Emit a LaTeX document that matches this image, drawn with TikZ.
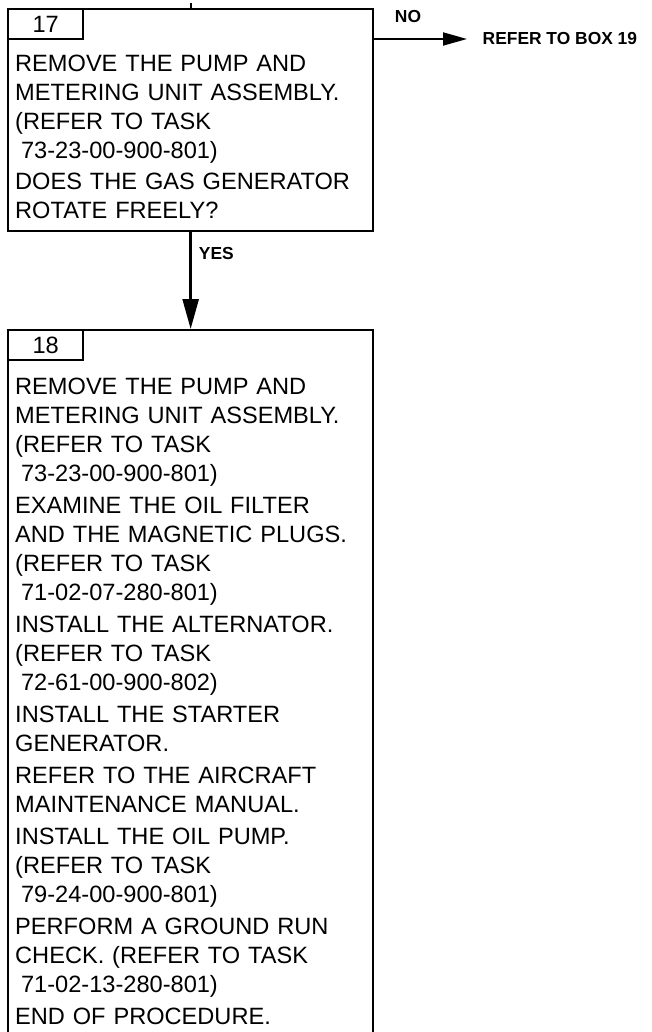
\documentclass[tikz,border=0pt]{standalone}
\usepackage{fontspec}
\setmainfont{Liberation Sans}
\usepackage{tikz}
\usetikzlibrary{arrows.meta,positioning}

\newcommand{\bodyfont}{\fontsize{23.6}{29}\selectfont}
\newcommand{\lblfont}{\fontsize{17.4}{20}\selectfont\bfseries}
\newcommand{\taskref}[1]{\hspace*{.25em}#1}

\begin{document}
\begin{tikzpicture}[x=1pt,y=-1pt,
  boxframe/.style={draw,line width=2.3pt,inner sep=0pt,minimum width=365pt,anchor=north west},
  numtab/.style={draw,line width=2.3pt,inner sep=0pt,minimum width=75pt,minimum height=30pt,anchor=north west,font=\bodyfont},
  boxtext/.style={anchor=north west,inner sep=0pt,text width=352pt,align=left,font=\bodyfont},
  lbl/.style={inner sep=0pt,font=\lblfont}]
  \useasboundingbox (0,0) rectangle (652,1032);
  % box 17
  \node[boxframe,minimum height=222pt] (b17) at (7,8) {};
  \node[numtab] (t17) at (b17.north west) {17};
  \node[boxtext,below right=15pt and 8pt of t17.south west] (x17) {REMOVE THE PUMP AND\\
    METERING UNIT ASSEMBLY.\\
    (REFER TO TASK\\
    \taskref{73-23-00-900-801)}\\[2pt]
    DOES THE GAS GENERATOR\\
    ROTATE FREELY?};
  \coordinate (up) at ([yshift=5pt]b17.north);
  \draw[line width=2pt] (b17.north) -- (up);
  % no branch
  \node[lbl,anchor=west] (ref19) at (482.5,39) {REFER TO BOX 19};
  \node[lbl] (no) at (408,17) {NO};
  \draw[line width=1.8pt,-{Triangle[length=24pt,width=13pt]},shorten >=15.5pt] (b17.east |- ref19.west) -- (ref19.west);
  % box 18
  \node[boxframe,minimum height=713pt] (b18) at (7,329) {};
  \node[numtab] (t18) at (b18.north west) {18};
  \node[boxtext,below right=16.5pt and 8pt of t18.south west] (x18) {REMOVE THE PUMP AND\\
    METERING UNIT ASSEMBLY.\\
    (REFER TO TASK\\
    \taskref{73-23-00-900-801)}\\[3pt]
    EXAMINE THE OIL FILTER\\
    AND THE MAGNETIC PLUGS.\\
    (REFER TO TASK\\
    \taskref{71-02-07-280-801)}\\[3pt]
    INSTALL THE ALTERNATOR.\\
    (REFER TO TASK\\
    \taskref{72-61-00-900-802)}\\[3pt]
    INSTALL THE STARTER\\
    GENERATOR.\\[3pt]
    REFER TO THE AIRCRAFT\\
    MAINTENANCE MANUAL.\\[3pt]
    INSTALL THE OIL PUMP.\\
    (REFER TO TASK\\
    \taskref{79-24-00-900-801)}\\[3pt]
    PERFORM A GROUND RUN\\
    CHECK. (REFER TO TASK\\
    \taskref{71-02-13-280-801)}\\[3pt]
    END OF PROCEDURE.};
  % yes branch
  \draw[line width=2.6pt,-{Triangle[length=30pt,width=16pt]}] (b17.south) -- (b18.north) node[lbl,pos=.22,right=7pt] (yes) {YES};
\end{tikzpicture}
\end{document}
